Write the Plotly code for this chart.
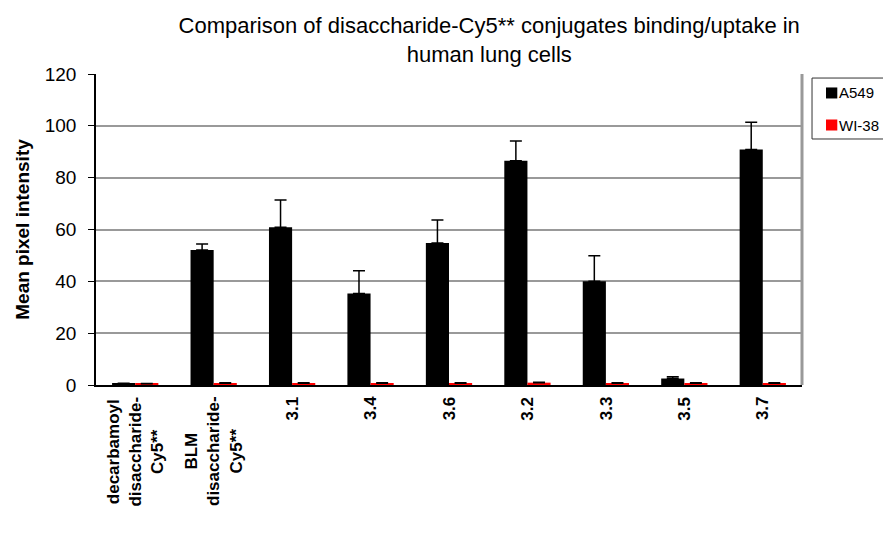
import plotly.graph_objects as go

categories = ["decarbamoyl<br>disaccharide-<br>Cy5**", "BLM<br>disaccharide-<br>Cy5**",
              "3.1", "3.4", "3.6", "3.2", "3.3", "3.5", "3.7"]
a549 = [0.5, 52.1, 60.9, 35.3, 54.8, 86.5, 40.0, 2.5, 90.9]
a549_err = [0.2, 2.3, 10.5, 8.8, 8.9, 7.6, 9.9, 0.7, 10.5]
wi38 = [0.5, 0.7, 0.7, 0.7, 0.7, 0.9, 0.7, 0.7, 0.7]
wi38_err = [0.1, 0.2, 0.2, 0.2, 0.2, 0.2, 0.2, 0.2, 0.2]
series_names = ["A549", "WI-38"]
series_colors = ["black", "#ff0000"]
zeros = [0] * len(categories)

FONT = "Liberation Sans, Arial, sans-serif"
xs = list(range(len(categories)))

fig = go.Figure()
for name, color, vals, errs in zip(series_names, series_colors, [a549, wi38], [a549_err, wi38_err]):
    fig.add_trace(go.Bar(
        x=xs, y=vals, name=name, showlegend=False,
        marker=dict(color=color, line=dict(width=0)),
        error_y=dict(type="data", array=errs, arrayminus=zeros, symmetric=False,
                     color="black", thickness=1.5, width=6),
    ))

# rotated category labels, lines centred like the original
for i, c in enumerate(categories):
    fig.add_annotation(
        x=i, y=-0.03, xref="x", yref="paper", text="<b>%s</b>" % c,
        textangle=-90, showarrow=False, xanchor="center", yanchor="top",
        align="center", font=dict(family=FONT, size=17, color="black"),
    )

# legend drawn by hand (Excel style box with small squares)
fig.add_shape(type="rect", xref="paper", yref="paper", x0=1.0142, x1=1.15, y0=0.791, y1=0.987,
              line=dict(color="#333333", width=1), fillcolor="white")
for k, (name, color) in enumerate(zip(series_names, series_colors)):
    yc = 0.939 - k * 0.103
    fig.add_shape(type="rect", xref="paper", yref="paper", x0=1.034, x1=1.05,
                  y0=yc - 0.0177, y1=yc + 0.0177, line=dict(width=0), fillcolor=color)
    fig.add_annotation(x=1.049, y=yc, xref="paper", yref="paper", text=name,
                       showarrow=False, xanchor="left", yanchor="middle",
                       font=dict(family=FONT, size=15, color="black"))

fig.update_layout(
    width=883, height=525,
    margin=dict(l=88, r=89, t=66, b=148, autoexpand=False),
    paper_bgcolor="white", plot_bgcolor="white",
    font=dict(family=FONT, color="black"),
    title=dict(
        text="Comparison of disaccharide-Cy5** conjugates binding/uptake in<br>human lung cells",
        x=0.545, xanchor="center", y=0.952, yanchor="top",
        font=dict(family=FONT, size=22, color="black"),
    ),
    barmode="group", bargap=0.41, bargroupgap=0,
    showlegend=False,
)
fig.update_xaxes(
    range=[-0.5, len(categories) - 0.5], showticklabels=False,
    showline=True, linecolor="black", linewidth=1.5, ticks="",
    showgrid=False, zeroline=False,
)
fig.update_yaxes(
    range=[0, 120], dtick=20, showgrid=True, gridcolor="#999999", gridwidth=2,
    showline=True, linecolor="black", linewidth=1.5, ticks="outside",
    ticklen=6, tickcolor="black", zeroline=False, ticklabelstandoff=8,
    tickfont=dict(family=FONT, size=19, color="black"),
    title=dict(text="<b>Mean pixel intensity</b>", font=dict(family=FONT, size=19, color="black"),
               standoff=10),
)
# gray frame on the right side like the original
fig.add_shape(type="line", xref="paper", yref="paper", x0=1, x1=1, y0=0, y1=1,
              line=dict(color="#999999", width=3))

fig.write_html("out.html")
